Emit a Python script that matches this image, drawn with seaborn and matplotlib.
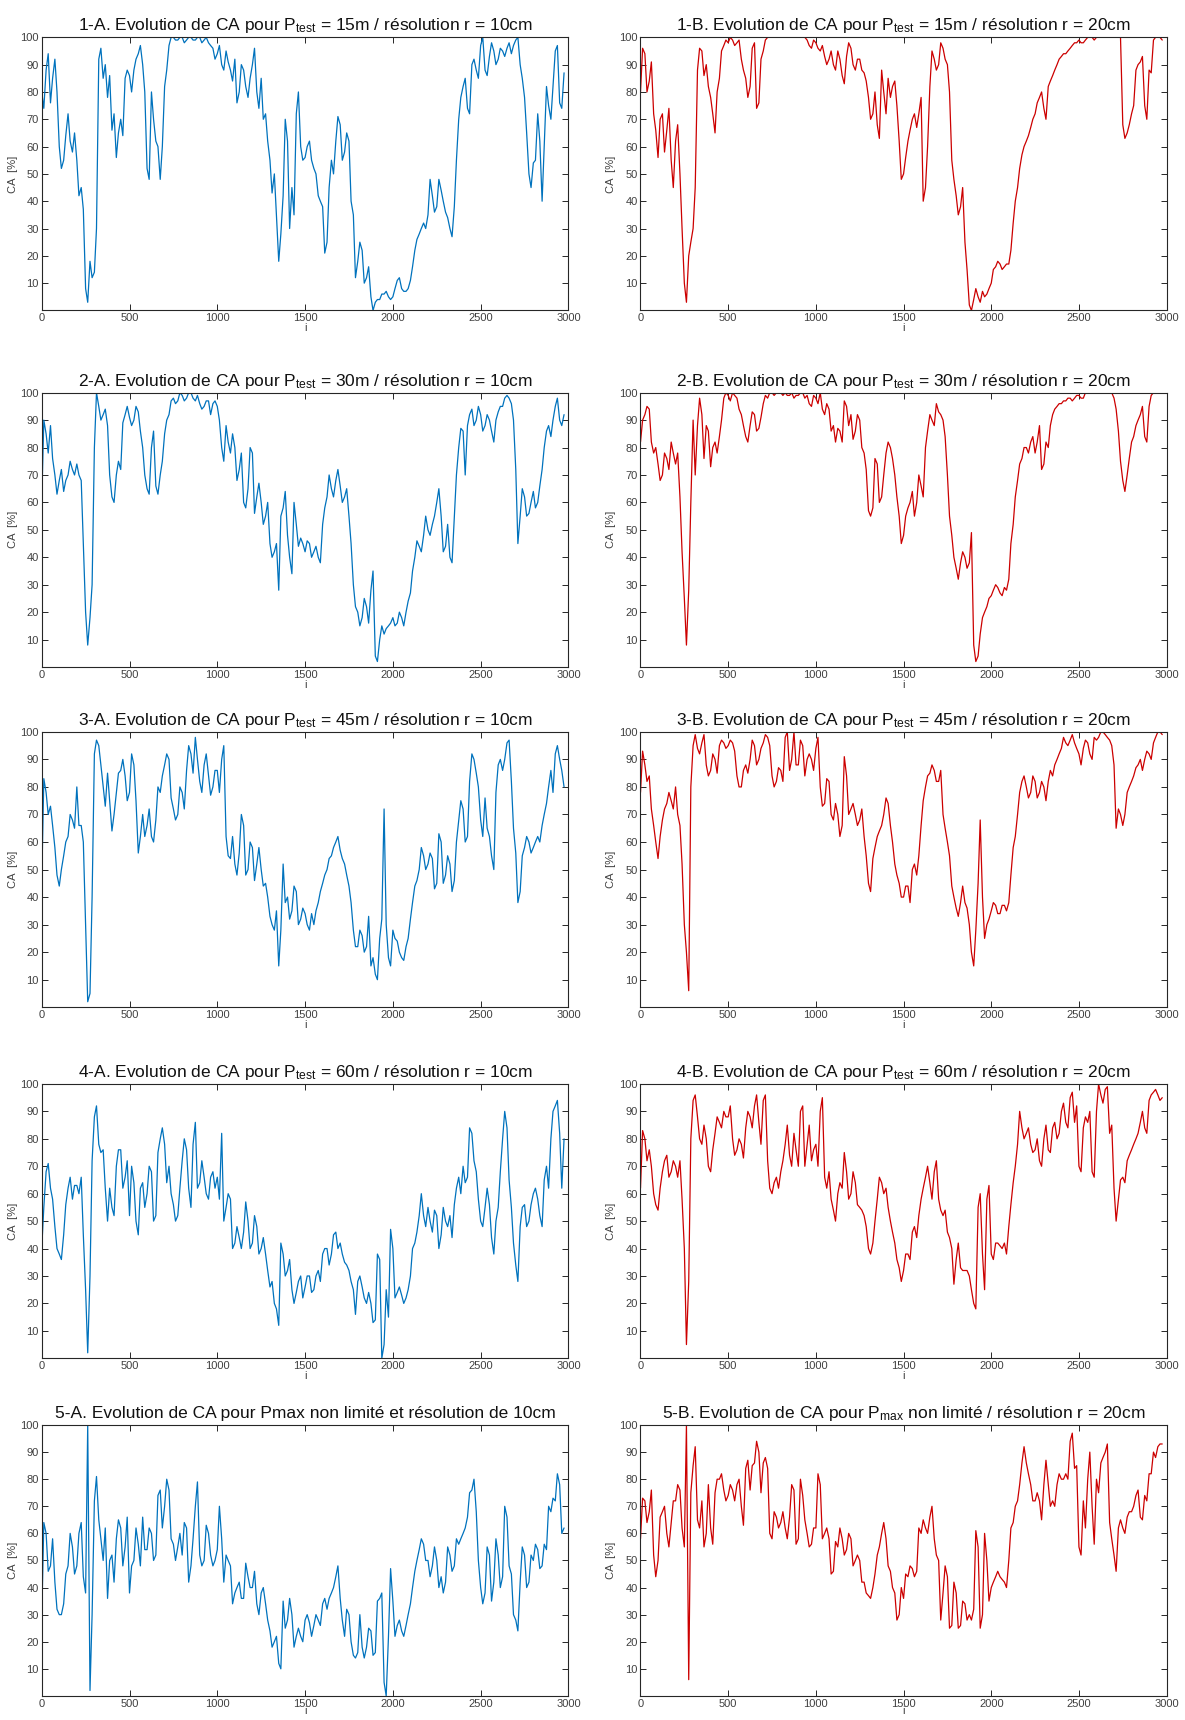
import matplotlib
matplotlib.use("Agg")
import pandas as pd
import seaborn as sns
import matplotlib.pyplot as plt

# sample index: main readings every 25 samples, plus in-between readings
i_idx = list(range(0, 3000, 25))
i_mid = list(range(12, 2975, 25))

# CA [%]
ca_1a = [80, 88, 76, 92, 60, 55, 72, 58, 55, 45,
         8, 18, 14, 92, 85, 78, 66, 56, 70, 85,
         86, 88, 94, 90, 52, 80, 62, 48, 82, 97,
         100, 99, 100, 99, 100, 99, 100, 99, 98, 96,
         94, 90, 95, 88, 92, 80, 88, 78, 90, 80,
         85, 72, 55, 50, 18, 42, 62, 45, 72, 60,
         56, 62, 52, 42, 38, 25, 55, 62, 68, 58,
         62, 35, 18, 22, 12, 5, 3, 4, 6, 5,
         5, 11, 8, 7, 11, 22, 28, 32, 35, 42,
         38, 44, 36, 30, 38, 70, 82, 74, 90, 88,
         97, 88, 93, 95, 92, 95, 96, 94, 99, 90,
         78, 50, 54, 72, 40, 82, 70, 95, 76, 87]
ca_1a_mid = [74, 94, 85, 80, 52, 64, 62, 65, 42, 37,
             3, 12, 30, 96, 90, 86, 72, 65, 64, 88,
             80, 92, 97, 80, 48, 70, 60, 60, 88, 100,
             99, 100, 98, 100, 99, 100, 98, 100, 97, 92,
             97, 88, 91, 84, 76, 90, 82, 85, 96, 74,
             70, 62, 43, 35, 28, 70, 30, 35, 80, 55,
             60, 55, 50, 40, 21, 45, 50, 71, 55, 65,
             40, 12, 25, 10, 16, 0, 4, 6, 7, 4,
             8, 12, 7, 8, 16, 26, 30, 30, 48, 36,
             48, 40, 34, 27, 55, 78, 85, 72, 92, 85,
             100, 86, 98, 90, 96, 93, 98, 97, 100, 85,
             65, 45, 55, 62, 60, 75, 82, 97, 74]
ca_1b = [80, 94, 84, 72, 56, 72, 66, 55, 62, 50,
         10, 20, 30, 88, 95, 90, 78, 65, 85, 97,
         98, 99, 98, 92, 85, 82, 98, 76, 95, 100,
         100, 100, 100, 100, 100, 100, 100, 100, 99, 96,
         98, 95, 93, 92, 90, 95, 86, 93, 96, 88,
         92, 87, 78, 72, 68, 88, 72, 78, 84, 62,
         50, 62, 70, 67, 78, 45, 82, 92, 90, 96,
         90, 55, 42, 38, 25, 2, 4, 5, 7, 6,
         10, 16, 17, 16, 17, 32, 45, 57, 62, 67,
         72, 78, 74, 82, 86, 90, 93, 94, 96, 98,
         99, 98, 100, 100, 100, 100, 100, 100, 100, 100,
         68, 65, 72, 88, 91, 75, 88, 99, 100, 99]
ca_1b_mid = [96, 80, 91, 66, 70, 58, 74, 45, 68, 30,
             3, 25, 45, 96, 86, 82, 72, 80, 95, 99,
             100, 97, 99, 88, 78, 96, 74, 92, 99, 100,
             100, 100, 100, 100, 100, 100, 100, 100, 97, 99,
             96, 97, 90, 95, 88, 92, 83, 98, 90, 92,
             88, 84, 70, 80, 63, 80, 85, 82, 75, 48,
             56, 66, 72, 72, 40, 60, 95, 88, 98, 92,
             80, 48, 35, 45, 15, 0, 8, 3, 5, 8,
             15, 18, 15, 17, 22, 40, 52, 60, 64, 70,
             76, 80, 70, 84, 88, 92, 94, 95, 97, 98,
             98, 99, 100, 99, 100, 100, 100, 100, 100, 100,
             63, 68, 75, 90, 93, 70, 87, 100, 100]
ca_2a = [60, 85, 88, 70, 68, 64, 70, 72, 74, 68,
         20, 18, 80, 95, 92, 88, 62, 70, 72, 92,
         91, 90, 93, 80, 65, 80, 66, 70, 85, 92,
         98, 97, 99, 98, 100, 97, 96, 95, 97, 96,
         95, 80, 88, 78, 80, 72, 60, 65, 78, 62,
         60, 55, 45, 42, 28, 58, 48, 34, 52, 47,
         42, 45, 42, 40, 52, 62, 65, 68, 66, 62,
         55, 30, 20, 18, 22, 28, 4, 10, 12, 15,
         18, 16, 18, 20, 27, 40, 44, 48, 50, 52,
         60, 55, 44, 40, 55, 80, 86, 88, 94, 90,
         92, 88, 90, 82, 93, 95, 99, 96, 72, 55,
         62, 56, 64, 60, 72, 86, 84, 95, 90, 92]
ca_2a_mid = [90, 78, 76, 63, 72, 68, 75, 70, 70, 45,
             8, 30, 100, 90, 94, 70, 60, 75, 89, 95,
             88, 95, 86, 70, 63, 86, 63, 75, 90, 97,
             96, 100, 97, 100, 98, 99, 94, 97, 92, 97,
             90, 75, 82, 85, 68, 78, 58, 80, 56, 67,
             52, 60, 40, 45, 55, 64, 40, 60, 44, 45,
             46, 40, 44, 38, 58, 70, 62, 72, 60, 65,
             45, 22, 15, 25, 16, 35, 2, 15, 14, 16,
             15, 20, 15, 24, 35, 46, 42, 55, 48, 55,
             65, 42, 52, 38, 70, 87, 70, 92, 88, 95,
             86, 92, 86, 90, 95, 98, 98, 90, 45, 65,
             55, 60, 58, 66, 80, 88, 90, 98, 88]
ca_2b = [82, 92, 94, 78, 74, 70, 76, 82, 74, 62,
         25, 28, 90, 88, 92, 88, 73, 82, 84, 98,
         99, 100, 98, 92, 84, 88, 92, 87, 96, 98,
         100, 100, 100, 100, 99, 98, 99, 100, 99, 95,
         98, 100, 92, 94, 88, 87, 82, 95, 92, 86,
         90, 78, 57, 58, 74, 62, 78, 80, 70, 55,
         48, 58, 64, 60, 66, 80, 92, 88, 93, 90,
         70, 48, 36, 38, 40, 38, 8, 4, 18, 22,
         26, 30, 27, 29, 32, 52, 68, 76, 80, 82,
         78, 88, 74, 80, 92, 95, 96, 97, 98, 98,
         99, 98, 100, 100, 100, 100, 100, 100, 98, 86,
         68, 70, 82, 88, 92, 84, 95, 100, 100, 100]
ca_2b_mid = [90, 95, 82, 80, 68, 78, 72, 78, 78, 42,
             8, 60, 70, 98, 76, 86, 80, 78, 90, 100,
             97, 99, 94, 88, 82, 93, 86, 91, 99, 100,
             99, 100, 99, 99, 100, 99, 100, 98, 96, 99,
             96, 94, 96, 86, 82, 86, 97, 88, 83, 92,
             80, 72, 55, 76, 60, 70, 82, 76, 62, 45,
             55, 60, 55, 70, 62, 86, 90, 96, 92, 84,
             55, 40, 32, 42, 36, 49, 2, 12, 20, 25,
             28, 29, 26, 28, 45, 62, 74, 80, 78, 84,
             82, 72, 82, 88, 94, 96, 97, 98, 97, 99,
             98, 100, 100, 100, 100, 100, 100, 100, 94, 75,
             64, 76, 84, 90, 95, 82, 99, 100, 100]
ca_3a = [45, 78, 73, 58, 44, 55, 62, 68, 80, 66,
         30, 5, 92, 95, 80, 85, 64, 78, 86, 84,
         78, 88, 56, 70, 66, 62, 68, 78, 88, 90,
         72, 70, 78, 86, 92, 98, 82, 88, 84, 80,
         86, 90, 62, 54, 52, 56, 66, 50, 58, 52,
         50, 45, 33, 28, 15, 52, 40, 35, 42, 32,
         34, 28, 30, 38, 45, 50, 55, 60, 57, 52,
         44, 28, 22, 26, 22, 15, 12, 25, 72, 18,
         28, 24, 18, 22, 32, 44, 50, 55, 52, 54,
         45, 60, 48, 52, 46, 68, 72, 62, 92, 85,
         68, 76, 62, 50, 88, 86, 96, 82, 56, 42,
         58, 60, 58, 62, 66, 74, 86, 92, 90, 80]
ca_3a_mid = [83, 70, 66, 48, 50, 60, 70, 65, 66, 60,
             2, 40, 97, 88, 73, 75, 70, 85, 90, 75,
             92, 75, 62, 62, 72, 60, 80, 84, 92, 76,
             68, 80, 72, 95, 85, 90, 78, 92, 77, 86,
             78, 95, 55, 62, 48, 70, 48, 60, 46, 58,
             44, 40, 30, 35, 28, 38, 32, 44, 30, 36,
             30, 34, 35, 42, 48, 54, 58, 62, 54, 48,
             38, 22, 28, 20, 33, 18, 10, 32, 30, 15,
             25, 20, 17, 25, 38, 46, 58, 50, 56, 43,
             63, 45, 55, 42, 60, 75, 60, 82, 90, 80,
             62, 65, 55, 78, 90, 90, 97, 65, 38, 55,
             62, 56, 60, 60, 70, 80, 78, 95, 86]
ca_3b = [78, 88, 84, 66, 54, 68, 74, 75, 80, 66,
         30, 6, 95, 94, 96, 88, 86, 90, 95, 96,
         95, 96, 84, 80, 88, 90, 95, 90, 96, 98,
         84, 82, 86, 98, 86, 100, 88, 95, 90, 90,
         94, 80, 74, 82, 68, 70, 66, 84, 72, 70,
         68, 62, 45, 54, 62, 66, 76, 66, 52, 45,
         40, 44, 50, 48, 66, 80, 85, 86, 82, 70,
         60, 44, 36, 38, 38, 30, 15, 45, 40, 30,
         35, 37, 34, 37, 38, 58, 70, 82, 80, 78,
         82, 78, 80, 82, 84, 90, 94, 96, 97, 96,
         92, 94, 96, 90, 97, 100, 99, 97, 88, 72,
         66, 78, 82, 87, 90, 90, 92, 96, 100, 99]
ca_3b_mid = [93, 82, 72, 60, 62, 72, 78, 72, 70, 52,
             20, 80, 99, 92, 99, 84, 92, 85, 97, 94,
             97, 93, 80, 86, 85, 97, 88, 94, 99, 95,
             80, 87, 82, 100, 90, 88, 97, 84, 92, 86,
             98, 73, 83, 70, 74, 62, 91, 70, 74, 66,
             72, 55, 42, 58, 64, 70, 74, 60, 48, 40,
             44, 38, 52, 55, 75, 84, 88, 82, 86, 65,
             55, 40, 33, 44, 36, 20, 28, 68, 25, 32,
             38, 34, 37, 35, 48, 62, 78, 84, 76, 84,
             76, 82, 75, 86, 88, 92, 98, 95, 99, 94,
             88, 97, 92, 98, 98, 100, 98, 95, 65, 70,
             70, 80, 84, 88, 86, 93, 90, 98, 100]
ca_4a = [40, 68, 62, 48, 38, 45, 62, 58, 63, 66,
         25, 30, 88, 78, 76, 50, 55, 70, 76, 66,
         52, 64, 45, 64, 60, 68, 52, 80, 78, 70,
         56, 52, 72, 76, 55, 86, 64, 66, 58, 68,
         66, 82, 55, 58, 42, 44, 46, 50, 42, 48,
         40, 38, 26, 20, 12, 38, 32, 25, 24, 30,
         26, 30, 25, 32, 38, 40, 38, 46, 42, 35,
         32, 25, 28, 26, 20, 20, 14, 36, 5, 15,
         40, 24, 23, 22, 30, 42, 52, 52, 55, 46,
         52, 45, 50, 52, 56, 66, 70, 66, 82, 68,
         50, 55, 56, 38, 55, 80, 84, 55, 34, 48,
         56, 50, 60, 58, 48, 70, 80, 92, 82, 80]
ca_4a_mid = [55, 71, 58, 40, 36, 56, 66, 63, 60, 45,
             2, 72, 92, 75, 62, 62, 52, 76, 62, 72,
             70, 50, 62, 55, 70, 50, 75, 84, 64, 60,
             50, 62, 80, 62, 78, 62, 72, 60, 66, 62,
             58, 50, 60, 40, 48, 40, 57, 40, 52, 38,
             44, 32, 28, 18, 42, 30, 36, 20, 28, 22,
             30, 24, 30, 28, 40, 34, 45, 40, 38, 34,
             28, 16, 30, 22, 24, 13, 38, 0, 25, 47,
             22, 26, 20, 25, 40, 46, 60, 48, 50, 54,
             40, 55, 48, 44, 62, 60, 64, 84, 72, 58,
             48, 62, 44, 50, 68, 90, 65, 42, 28, 55,
             48, 56, 62, 52, 65, 62, 90, 94, 62]
ca_4b = [62, 80, 76, 60, 54, 68, 74, 68, 70, 72,
         40, 28, 94, 88, 78, 80, 68, 82, 86, 90,
         88, 80, 76, 78, 84, 88, 92, 86, 94, 72,
         60, 66, 68, 78, 74, 82, 70, 92, 78, 72,
         78, 90, 66, 68, 54, 60, 62, 68, 60, 64,
         55, 52, 40, 42, 58, 64, 62, 50, 42, 33,
         32, 38, 46, 44, 58, 66, 64, 68, 58, 52,
         46, 40, 36, 33, 32, 30, 20, 55, 38, 58,
         38, 42, 41, 42, 48, 64, 78, 84, 82, 78,
         76, 72, 80, 76, 84, 80, 90, 86, 95, 86,
         70, 84, 86, 68, 90, 96, 98, 82, 62, 58,
         66, 72, 76, 80, 86, 84, 94, 97, 96, 95]
ca_4b_mid = [83, 72, 70, 56, 62, 72, 66, 72, 66, 58,
             5, 80, 96, 80, 85, 70, 76, 88, 84, 88,
             92, 74, 80, 73, 90, 84, 96, 78, 96, 62,
             64, 62, 72, 85, 70, 76, 90, 70, 85, 76,
             70, 95, 62, 58, 50, 64, 75, 58, 68, 56,
             54, 48, 38, 50, 66, 60, 55, 46, 36, 28,
             38, 36, 48, 52, 62, 70, 58, 72, 54, 54,
             44, 27, 42, 32, 32, 25, 18, 60, 25, 63,
             36, 42, 40, 38, 56, 70, 90, 80, 84, 75,
             80, 70, 85, 75, 86, 82, 93, 84, 97, 92,
             68, 88, 90, 66, 100, 93, 99, 85, 50, 65,
             64, 74, 78, 82, 90, 82, 96, 98, 94]
ca_5a = [28, 60, 48, 42, 30, 34, 48, 55, 48, 64,
         38, 2, 72, 65, 50, 36, 52, 58, 62, 55,
         38, 50, 56, 66, 54, 60, 52, 76, 70, 76,
         56, 55, 52, 62, 48, 70, 52, 50, 60, 48,
         54, 58, 52, 48, 38, 42, 36, 44, 40, 34,
         38, 34, 24, 20, 12, 35, 28, 30, 22, 22,
         28, 27, 26, 28, 34, 32, 38, 44, 36, 22,
         30, 15, 16, 18, 18, 24, 16, 36, 5, 22,
         35, 26, 24, 26, 34, 46, 54, 56, 50, 48,
         50, 44, 42, 52, 48, 56, 60, 66, 76, 68,
         40, 38, 52, 42, 52, 44, 66, 45, 28, 42,
         52, 42, 50, 54, 48, 54, 68, 72, 78, 62]
ca_5a_mid = [64, 46, 58, 32, 30, 45, 60, 45, 60, 44,
             100, 30, 81, 58, 62, 50, 42, 65, 48, 66,
             48, 62, 48, 54, 62, 50, 74, 62, 80, 58,
             50, 60, 64, 42, 58, 79, 48, 63, 52, 50,
             70, 42, 50, 34, 40, 36, 49, 40, 46, 30,
             40, 28, 18, 22, 10, 25, 36, 18, 25, 20,
             30, 22, 30, 26, 36, 36, 40, 48, 28, 32,
             20, 14, 30, 14, 25, 15, 35, 38, 0, 47,
             22, 28, 22, 30, 40, 50, 58, 50, 44, 55,
             40, 38, 55, 46, 58, 58, 62, 75, 80, 50,
             34, 55, 35, 58, 40, 70, 48, 30, 24, 55,
             40, 52, 56, 47, 56, 70, 73, 82, 60]
ca_5b = [58, 72, 68, 52, 50, 68, 60, 64, 72, 76,
         55, 6, 85, 65, 72, 60, 62, 75, 80, 76,
         74, 76, 78, 70, 84, 76, 86, 90, 86, 84,
         58, 66, 64, 62, 66, 76, 58, 74, 60, 56,
         62, 78, 60, 58, 46, 55, 58, 54, 58, 50,
         50, 42, 37, 40, 52, 60, 58, 46, 38, 30,
         36, 44, 47, 46, 60, 62, 66, 58, 50, 38,
         44, 26, 38, 26, 34, 30, 32, 55, 30, 50,
         40, 44, 44, 42, 50, 64, 72, 86, 86, 78,
         72, 72, 78, 78, 72, 78, 80, 82, 94, 84,
         55, 72, 80, 70, 80, 86, 90, 64, 52, 62,
         62, 66, 68, 74, 66, 74, 82, 90, 92, 93]
ca_5b_mid = [73, 64, 76, 44, 66, 70, 55, 72, 78, 62,
             100, 75, 92, 62, 55, 78, 56, 80, 82, 72,
             78, 72, 80, 63, 87, 85, 94, 75, 88, 60,
             68, 62, 68, 58, 78, 56, 80, 65, 55, 62,
             82, 58, 62, 45, 57, 62, 52, 60, 48, 52,
             42, 38, 36, 45, 55, 64, 48, 40, 28, 40,
             45, 48, 44, 62, 65, 60, 70, 52, 28, 48,
             25, 42, 25, 35, 28, 28, 61, 25, 60, 35,
             42, 46, 43, 40, 62, 70, 78, 92, 82, 72,
             75, 65, 87, 70, 70, 82, 80, 80, 97, 85,
             52, 62, 90, 56, 75, 88, 93, 58, 46, 65,
             60, 68, 70, 76, 65, 72, 82, 88, 93]

titles = [
    r"1-A. Evolution de CA pour P$_{\mathrm{test}}$ = 15m / résolution r = 10cm",
    r"1-B. Evolution de CA pour P$_{\mathrm{test}}$ = 15m / résolution r = 20cm",
    r"2-A. Evolution de CA pour P$_{\mathrm{test}}$ = 30m / résolution r = 10cm",
    r"2-B. Evolution de CA pour P$_{\mathrm{test}}$ = 30m / résolution r = 20cm",
    r"3-A. Evolution de CA pour P$_{\mathrm{test}}$ = 45m / résolution r = 10cm",
    r"3-B. Evolution de CA pour P$_{\mathrm{test}}$ = 45m / résolution r = 20cm",
    r"4-A. Evolution de CA pour P$_{\mathrm{test}}$ = 60m / résolution r = 10cm",
    r"4-B. Evolution de CA pour P$_{\mathrm{test}}$ = 60m / résolution r = 20cm",
    "5-A. Evolution de CA pour Pmax non limité et résolution de 10cm",
    r"5-B. Evolution de CA pour P$_{\mathrm{max}}$ non limité / résolution r = 20cm",
]
series = [(ca_1a, ca_1a_mid), (ca_1b, ca_1b_mid), (ca_2a, ca_2a_mid),
          (ca_2b, ca_2b_mid), (ca_3a, ca_3a_mid), (ca_3b, ca_3b_mid),
          (ca_4a, ca_4a_mid), (ca_4b, ca_4b_mid), (ca_5a, ca_5a_mid),
          (ca_5b, ca_5b_mid)]

blue = "#0072BD"
red = "#CC0000"

sns.set_theme(style="ticks")
plt.rcParams.update({
    "font.family": ["Liberation Sans", "DejaVu Sans"],
    "mathtext.fontset": "custom",
    "mathtext.rm": "Liberation Sans",
    "mathtext.it": "Liberation Sans:italic",
    "axes.linewidth": 0.8,
    "axes.edgecolor": "#262626",
})

fig = plt.figure(figsize=(11.85, 17.2), dpi=100)

# axes boxes [left, bottom, width, height] in figure fractions
col_left = [0.0352, 0.5405]
col_width = [0.4445, 0.4440]
row_bottom = [0.8195, 0.6122, 0.4144, 0.2103, 0.0140]
row_height = [0.1588, 0.1595, 0.1601, 0.1595, 0.1575]

for k, ((vals, mids), title) in enumerate(zip(series, titles)):
    r, c = divmod(k, 2)
    ax = fig.add_axes([col_left[c], row_bottom[r], col_width[c], row_height[r]])
    df = pd.DataFrame({"i": i_idx + i_mid, "CA": vals + mids}).sort_values("i")
    sns.lineplot(data=df, x="i", y="CA", ax=ax, color=blue if c == 0 else red,
                 linewidth=0.9)
    ax.set_xlim(0, 3000)
    ax.set_ylim(0, 100)
    ax.set_xticks(range(0, 3001, 500))
    ax.set_yticks(range(10, 101, 10))
    ax.tick_params(direction="in", top=True, right=True, length=4, width=0.7,
                   labelsize=8, labelcolor="#404040", color="#262626", pad=2)
    ax.set_xlabel("i", fontsize=8, color="#404040", labelpad=-2 if r == 4 else 0)
    ax.set_ylabel("CA  [%]", fontsize=8, color="#404040", labelpad=2)
    ax.set_title(title, fontsize=12.5, color="#111111", pad=5)

fig.savefig("out.png", dpi=100)
